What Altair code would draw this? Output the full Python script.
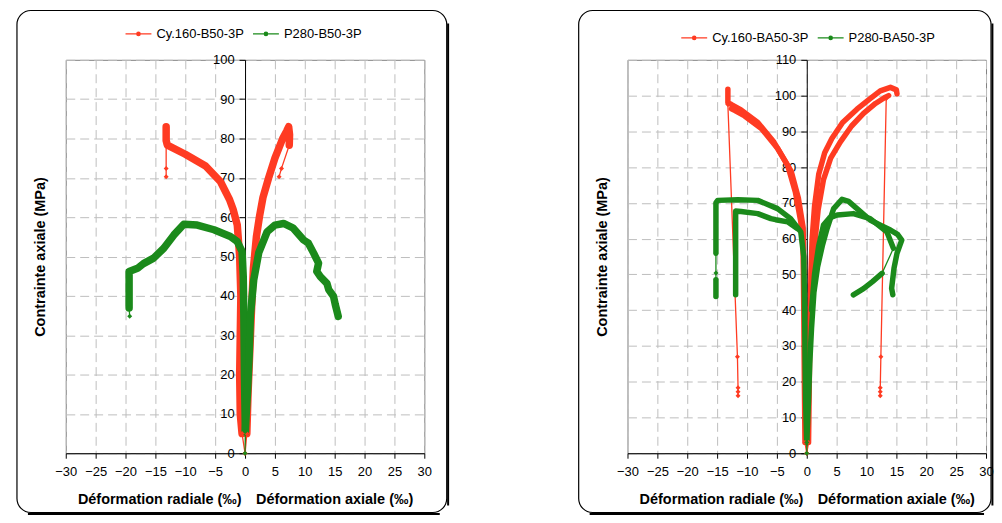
import altair as alt
import pandas as pd

RED = "#FF3B22"
GREEN = "#1B8A1B"
FONT = "Liberation Sans"

# ---------------- names / ticks ----------------
L_NAMES = ["Cy.160-B50-3P", "P280-B50-3P"]
R_NAMES = ["Cy.160-BA50-3P", "P280-BA50-3P"]
X_TICKS = list(range(-30, 31, 5))
L_Y_TICKS = list(range(0, 101, 10))
R_Y_TICKS = list(range(0, 111, 10))
Y_TITLE = "Contrainte axiale (MPa)"
X_TITLE = "Déformation radiale (‰)\u2003Déformation axiale (‰)"

# ---------------- left panel : Cy.160-B50-3P ----------------
l_red_rad_start_x = [0, -0.5]
l_red_rad_start_y = [0, 5]
l_red_rad_x = [-0.5, -0.8, -0.9, -0.8, -0.7, -0.9, -1.3, -2.0, -2.6, -4.1, -6.6, -10.0, -13.0, -13.2, -13.2]
l_red_rad_y = [5, 10, 20, 30, 40, 50, 58, 62, 64.5, 69, 73, 76, 78.3, 79.5, 83]
l_red_rad_end_x = [-13.2, -13.2, -13.2]
l_red_rad_end_y = [78.5, 72.4, 70.3]
l_red_ax_start_x = [0, 0.3]
l_red_ax_start_y = [0, 5]
l_red_ax_x = [0.3, 0.5, 0.8, 1.1, 1.4, 1.9, 2.4, 3.0, 3.95, 5.0, 6.3, 7.0, 7.3, 7.45, 7.4]
l_red_ax_y = [5, 15, 26, 37, 47, 55, 60, 65, 70, 75, 80, 82, 83, 81, 78.3]
l_red_ax_end_x = [7.4, 6.1, 5.7]
l_red_ax_end_y = [78.3, 72.4, 70.3]

# ---------------- left panel : P280-B50-3P ----------------
l_grn_start_x = [0, 0.05]
l_grn_start_y = [0, 5.5]
l_grn_rad_x = [0.05, -0.1, -0.2, -0.3, -0.5, -1.3, -2.45, -5.2, -8.0, -10.25, -11.9, -13.6, -15.3, -17.0, -18.0, -19.4, -19.4]
l_grn_rad_y = [5.5, 20, 35, 45, 51.3, 53.8, 55.1, 56.8, 58.0, 58.2, 55.5, 52.1, 49.6, 48.2, 47.0, 46.2, 36.9]
l_grn_rad_end_x = [-19.4, -19.3]
l_grn_rad_end_y = [36.9, 34.8]
l_grn_ax_x = [0.05, 0.2, 0.4, 0.7, 0.9, 1.45, 2.3, 3.7, 5.0, 6.45, 8.0, 9.8, 10.6, 11.5, 12.3, 12.0, 12.6, 13.7, 14.0, 14.8, 15.1, 15.6]
l_grn_ax_y = [5.5, 10, 15, 25, 35, 44, 51, 56.3, 58, 58.4, 57.3, 54.2, 53.4, 50.8, 48.3, 46.2, 44.9, 43.2, 41.6, 39.9, 37.8, 34.8]

# ---------------- right panel : Cy.160-BA50-3P ----------------
r_red_rad_start_x = [0, -0.3]
r_red_rad_start_y = [0, 3]
r_red_rad_a_x = [-0.3, -0.4, -0.5, -0.6, -1.0, -1.9, -3.2, -5.5, -8.2, -11.0, -12.6, -13.2, -13.2]
r_red_rad_a_y = [3, 20, 40, 57, 64.7, 73, 80.5, 87, 92.5, 96, 97.5, 98, 101.8]
r_red_rad_b_x = [-0.5, -0.6, -1.4, -2.6, -4.9, -7.6, -10.4, -12.0, -12.6]
r_red_rad_b_y = [50, 63, 71.3, 78.8, 85.3, 90.8, 94.3, 95.8, 96.3]
r_red_rad_drop_x = [-13.2, -11.6, -11.5, -11.5, -11.5]
r_red_rad_drop_y = [97.5, 27, 18.3, 17.2, 16.1]
r_red_ax_start_x = [0, 0.3]
r_red_ax_start_y = [0, 3]
r_red_ax_a_x = [0.3, 0.5, 0.7, 0.9, 1.3, 2.0, 3.0, 4.2, 6.0, 8.4, 10.5, 12.3, 14.0, 15.0, 15.1]
r_red_ax_a_y = [3, 30, 50, 60, 69, 78, 84, 88, 92.5, 96.2, 99, 101.3, 102.3, 101.6, 100.5]
r_red_ax_b_x = [0.9, 1.3, 1.9, 2.8, 4.0, 5.6, 7.5, 9.5, 11.5, 13.0, 13.7]
r_red_ax_b_y = [45, 58, 68, 76.5, 82.5, 87, 91.5, 95, 97.8, 99.4, 100]
r_red_ax_drop_x = [13.3, 12.4, 12.3, 12.3, 12.3]
r_red_ax_drop_y = [99.2, 27, 18.3, 17.2, 16.1]

# ---------------- right panel : P280-BA50-3P ----------------
r_grn_start_x = [0, 0]
r_grn_start_y = [0, 3]
r_grn_rad_a_x = [0, -0.2, -0.3, -0.4, -0.5, -1.0, -1.6, -2.7, -4.9, -8.2, -11.5, -14.9, -15.2, -15.2]
r_grn_rad_a_y = [3, 15, 30, 45, 55, 61.9, 63.2, 65.6, 68.4, 70.7, 70.9, 70.7, 70, 55.9]
r_grn_rad_gap_x = [-15.2, -15.2, -15.2]
r_grn_rad_gap_y = [55.9, 50.4, 48.5]
r_grn_rad_tail_x = [-15.2, -15.2]
r_grn_rad_tail_y = [48.5, 43.8]
r_grn_rad_b_x = [-1.6, -3.2, -5.2, -6.0, -8.2, -11.0, -11.9, -11.9]
r_grn_rad_b_y = [62.8, 64.7, 65.3, 65.6, 67.0, 67.6, 67.7, 44.3]
r_grn_ax_a_x = [0, 0.3, 0.5, 0.8, 1.2, 1.8, 2.6, 3.4, 4.5, 5.9, 7.0, 8.4, 10.6, 12.5, 14.0, 15.2, 15.9, 15.1, 14.6, 14.2, 14.4]
r_grn_ax_a_y = [3, 15, 25, 35, 45, 52, 58, 62.8, 68.4, 71, 70.4, 68.4, 65.2, 63.6, 62.4, 61.2, 59.6, 55.9, 51.7, 46.1, 44.3]
r_grn_ax_b_x = [0.8, 1.3, 2.0, 2.8, 3.8, 5.1, 7.8, 10.6, 13.4, 14.5]
r_grn_ax_b_y = [40, 50, 58, 63.8, 65.8, 66.6, 67.0, 65.6, 61.9, 57.3]
r_grn_ax_gap_x = [14.5, 12.6]
r_grn_ax_gap_y = [57.3, 50.3]
r_grn_ax_tail_x = [12.6, 11.0, 9.5, 7.8]
r_grn_ax_tail_y = [50.3, 48.0, 46.0, 44.3]


def build(segments):
    rows = []
    for series, name, kind, xs, ys in segments:
        for i, (x, y) in enumerate(zip(xs, ys)):
            rows.append({"series": series, "seg": name, "kind": kind, "i": i, "x": x, "y": y})
    return pd.DataFrame(rows)


left_df = build([
    (L_NAMES[0], "r1", "thin", l_red_rad_start_x, l_red_rad_start_y),
    (L_NAMES[0], "r2", "band", l_red_rad_x, l_red_rad_y),
    (L_NAMES[0], "r3", "thin", l_red_rad_end_x, l_red_rad_end_y),
    (L_NAMES[0], "r4", "thin", l_red_ax_start_x, l_red_ax_start_y),
    (L_NAMES[0], "r5", "band", l_red_ax_x, l_red_ax_y),
    (L_NAMES[0], "r6", "thin", l_red_ax_end_x, l_red_ax_end_y),
    (L_NAMES[1], "g1", "thin", l_grn_start_x, l_grn_start_y),
    (L_NAMES[1], "g2", "band", l_grn_rad_x, l_grn_rad_y),
    (L_NAMES[1], "g3", "thin", l_grn_rad_end_x, l_grn_rad_end_y),
    (L_NAMES[1], "g4", "band", l_grn_ax_x, l_grn_ax_y),
])

right_df = build([
    (R_NAMES[0], "r1", "thin", r_red_rad_start_x, r_red_rad_start_y),
    (R_NAMES[0], "r2", "band", r_red_rad_a_x, r_red_rad_a_y),
    (R_NAMES[0], "r3", "band", r_red_rad_b_x, r_red_rad_b_y),
    (R_NAMES[0], "r4", "thin", r_red_rad_drop_x, r_red_rad_drop_y),
    (R_NAMES[0], "r5", "thin", r_red_ax_start_x, r_red_ax_start_y),
    (R_NAMES[0], "r6", "band", r_red_ax_a_x, r_red_ax_a_y),
    (R_NAMES[0], "r7", "band", r_red_ax_b_x, r_red_ax_b_y),
    (R_NAMES[0], "r8", "thin", r_red_ax_drop_x, r_red_ax_drop_y),
    (R_NAMES[1], "g1", "thin", r_grn_start_x, r_grn_start_y),
    (R_NAMES[1], "g2", "band", r_grn_rad_a_x, r_grn_rad_a_y),
    (R_NAMES[1], "g3", "thin", r_grn_rad_gap_x, r_grn_rad_gap_y),
    (R_NAMES[1], "g4", "band", r_grn_rad_tail_x, r_grn_rad_tail_y),
    (R_NAMES[1], "g5", "band", r_grn_rad_b_x, r_grn_rad_b_y),
    (R_NAMES[1], "g6", "band", r_grn_ax_a_x, r_grn_ax_a_y),
    (R_NAMES[1], "g7", "band", r_grn_ax_b_x, r_grn_ax_b_y),
    (R_NAMES[1], "g8", "thin", r_grn_ax_gap_x, r_grn_ax_gap_y),
    (R_NAMES[1], "g9", "band", r_grn_ax_tail_x, r_grn_ax_tail_y),
])

LEGEND_SYMBOL = "M-1,0H1M-0.13,0A0.13,0.13,0,1,0,0.13,0A0.13,0.13,0,1,0,-0.13,0"
W, H = 360, 395
BOX_TOP, BOX_BOTTOM = -49.5, 454.5


def panel(df, names, y_ticks, ymax, band_w, legend_x, legend_y, box_right):
    cscale = alt.Scale(domain=names, range=[RED, GREEN])
    xenc = alt.X("x:Q", scale=alt.Scale(domain=[-30, 30], nice=False, zero=False),
                 axis=alt.Axis(values=X_TICKS, grid=True, tickSize=5, labelPadding=7,
                               labelFlush=False, labelOverlap=False, title=X_TITLE,
                               titleY=46, titleBaseline="middle"))
    yenc = alt.Y("y:Q", scale=alt.Scale(domain=[0, ymax], nice=False),
                 axis=alt.Axis(values=y_ticks, grid=True, offset=-W / 2, tickSize=6,
                               labelPadding=5, labelOverlap=False, title=Y_TITLE,
                               titleX=-W / 2 - 25, titleY=H / 2, titleAngle=270,
                               titleBaseline="middle"))
    legend = alt.Legend(orient="none", legendX=legend_x, legendY=legend_y,
                        direction="horizontal", title=None, symbolType=LEGEND_SYMBOL,
                        symbolSize=676, symbolStrokeWidth=1.3, labelFont=FONT,
                        labelFontSize=13, labelColor="black", labelOffset=4,
                        columnPadding=6, padding=0, labelLimit=300)
    swidth = alt.StrokeWidth("kind:N", scale=alt.Scale(domain=["band", "thin"], range=[band_w, 1.3]),
                             legend=None)
    color = alt.Color("series:N", scale=cscale, legend=legend)

    def lines(name):
        return (alt.Chart(df).transform_filter(alt.datum.series == name)
                .mark_line(strokeJoin="round", strokeCap="round")
                .encode(x=xenc, y=yenc, color=color, detail="seg:N", order="i:Q",
                        strokeWidth=swidth))

    pts = (alt.Chart(df).transform_filter(alt.datum.kind == "thin")
           .mark_point(shape="diamond", filled=True, size=25, opacity=1)
           .encode(x=xenc, y=yenc, color=alt.Color("series:N", scale=cscale, legend=None)))

    one = alt.Data(values=[{"k": 1}])
    box = alt.Chart(one).mark_rect(fill="transparent", stroke="black", strokeWidth=1.2,
                                   cornerRadius=14).encode(
        x=alt.value(-49), x2=alt.value(box_right), y=alt.value(BOX_TOP), y2=alt.value(BOX_BOTTOM))
    shadow_r = alt.Chart(one).mark_rule(stroke="black", strokeWidth=2).encode(
        x=alt.value(box_right + 1.4), y=alt.value(BOX_TOP + 13), y2=alt.value(BOX_BOTTOM - 7))
    shadow_b = alt.Chart(one).mark_rule(stroke="black", strokeWidth=2).encode(
        x=alt.value(-38), x2=alt.value(box_right - 7), y=alt.value(BOX_BOTTOM + 1.4))

    return alt.layer(box, shadow_r, shadow_b, lines(names[0]), lines(names[1]), pts).properties(
        width=W, height=H)


left = panel(left_df, L_NAMES, L_Y_TICKS, 100, 7.5, 59, -40, 382.5)
right = panel(right_df, R_NAMES, R_Y_TICKS, 110, 5.5, 53, -36, 365)

chart = (alt.hconcat(left, right, spacing=127)
         .resolve_scale(color="independent", x="independent", y="independent", strokeWidth="independent")
         .resolve_legend(color="independent")
         .properties(padding={"left": 7, "top": 0, "right": 0, "bottom": 0})
         .configure_view(stroke="#808080", strokeWidth=1)
         .configure_axis(labelFont=FONT, titleFont=FONT, labelFontSize=13, titleFontSize=14.5,
                         titleFontWeight="bold", labelColor="black", titleColor="black",
                         domainColor="black", tickColor="black", gridColor="#BDBDBD",
                         gridDash=[9, 5], gridWidth=1, domainWidth=1))

chart.save("out.html", embed_options={"renderer": "svg", "actions": False})
